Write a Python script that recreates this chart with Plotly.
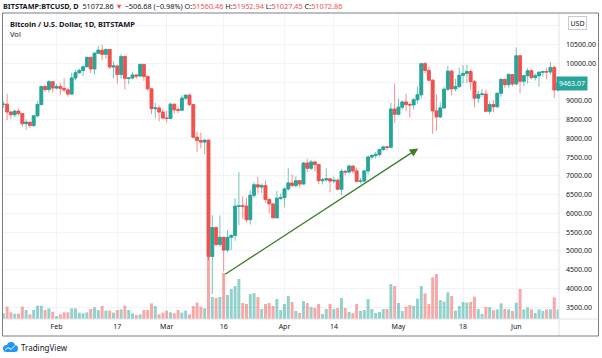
import plotly.graph_objects as go
import pandas as pd

# ---------------- data (daily BTC/USD, Bitstamp) ----------------
START_DATE = "2020-01-18"

OPEN = [
    8900, 8910, 8700, 8630, 8725, 8660, 8390, 8430, 8340, 8600, 8900, 9380, 9300, 9510,
    9340, 9380, 9330, 9290, 9180, 9610, 9750, 9810, 9910, 10160, 9850, 10270, 10350, 10240,
    10370, 9900, 9930, 9700, 10180, 9600, 9610, 9690, 9660, 9970, 9650, 9320, 8790, 8810, 8700,
    8540, 8530, 8910, 8760, 8750, 9070, 9150, 8900, 8030, 7940, 7900, 7950, 4850, 5620, 5170,
    5360, 5020, 5360, 5410, 6190, 6200, 6190, 5830, 6480, 6760, 6700, 6740, 6370, 6250, 5880, 6400,
    6420, 6650, 6810, 6740, 6870, 6780, 7340, 7200, 7370, 7300, 6870, 6890, 6920, 6860, 6880,
    6640, 7120, 7100, 7260, 7130, 6850, 6860, 7130, 7500, 7540, 7570, 7700, 7770, 7760, 8780,
    8640, 8830, 8970, 8900, 8890, 9030, 9160, 9990, 9810, 9550, 8730, 8570, 8810, 9310, 9790,
    9320, 9380, 9680, 9730, 9780, 9510, 9070, 9170, 9180, 8720, 8900, 8840, 9200, 9570, 9430, 9700,
    9450, 10200, 9520, 9670, 9800, 9620, 9670, 9760, 9780, 9770, 9890, 9290,
]
HIGH = [
    8990, 9190, 8730, 8760, 8790, 8665, 8500, 8430, 8610, 8990, 9400, 9430, 9550, 9520,
    9440, 9470, 9600, 9350, 9750, 9830, 9860, 9940, 10160, 10170, 10300, 10470, 10500, 10390,
    10380, 10050, 9960, 10250, 10210, 9620, 9760, 9700, 9990, 9990, 9660, 9330, 8950, 8880, 8780,
    8740, 8950, 8920, 8850, 9150, 9170, 9200, 8900, 8180, 8150, 7970, 7970, 5950, 5650, 5940,
    5370, 5550, 5440, 6400, 7100, 6450, 6410, 6610, 6830, 6980, 6800, 6870, 6400, 6260, 6600, 6520,
    6690, 7200, 7040, 6990, 6880, 7360, 7460, 7420, 7380, 7310, 6950, 7200, 6930, 6980, 6940,
    7180, 7160, 7300, 7270, 7220, 6950, 7160, 7550, 7580, 7640, 7720, 7800, 7790, 8950, 9460,
    9060, 9000, 9190, 8960, 9080, 9380, 10000, 10040, 9910, 9570, 9170, 8960, 9370, 9930, 9840,
    9590, 9880, 9950, 9960, 9840, 9560, 9270, 9310, 9300, 8980, 9010, 9220, 9600, 9600, 9740, 9700,
    10420, 10230, 9690, 9880, 9850, 9730, 9800, 9800, 9880, 10030, 9940, 9530,
]
LOW = [
    8810, 8480, 8520, 8560, 8610, 8300, 8230, 8280, 8300, 8560, 8880, 9240, 9220, 9220,
    9300, 9160, 9230, 9110, 9160, 9540, 9720, 9660, 9890, 9740, 9710, 10250, 10080, 10130,
    9850, 9600, 9460, 9590, 9300, 9440, 9570, 9590, 9650, 9530, 9260, 8640, 8530, 8450, 8530,
    8420, 8510, 8660, 8670, 8750, 9020, 8860, 8000, 7630, 7730, 7580, 4750, 3850, 5110, 5100,
    4450, 4960, 5020, 5270, 5680, 5860, 5760, 5700, 6410, 6530, 6540, 6280, 6000, 5880, 5860, 6350,
    6160, 6600, 6700, 6680, 6690, 6770, 7100, 7150, 7120, 6780, 6770, 6850, 6560, 6800, 6620,
    6480, 7020, 7060, 7060, 6820, 6800, 6840, 7030, 7440, 7460, 7510, 7660, 7670, 7730, 8410,
    8630, 8760, 8720, 8550, 8770, 8930, 9060, 9740, 9520, 8120, 8200, 8540, 8800, 9260, 9140,
    9250, 9340, 9460, 9470, 9290, 8830, 8940, 9100, 8700, 8640, 8700, 8820, 9110, 9350, 9350, 9390,
    9420, 9200, 9390, 9460, 9580, 9540, 9380, 9640, 9570, 9690, 9070, 9240,
]
CLOSE = [
    8910, 8700, 8630, 8725, 8660, 8390, 8430, 8340, 8600, 8900, 9380, 9300, 9510, 9340,
    9380, 9330, 9290, 9180, 9610, 9750, 9810, 9910, 10160, 9850, 10270, 10350, 10240, 10370,
    9900, 9930, 9700, 10180, 9600, 9610, 9690, 9660, 9970, 9650, 9320, 8790, 8810, 8700, 8540,
    8530, 8910, 8760, 8750, 9070, 9150, 8900, 8030, 7940, 7900, 7950, 4850, 5620, 5170, 5360,
    5020, 5360, 5410, 6190, 6200, 6190, 5830, 6480, 6760, 6700, 6740, 6370, 6250, 5880, 6400, 6420,
    6650, 6810, 6740, 6870, 6780, 7340, 7200, 7370, 7300, 6870, 6890, 6920, 6860, 6880, 6640,
    7120, 7100, 7260, 7130, 6850, 6860, 7130, 7500, 7540, 7570, 7700, 7770, 7760, 8780, 8640,
    8830, 8970, 8900, 8890, 9030, 9160, 9990, 9810, 9550, 8730, 8570, 8810, 9310, 9790, 9320,
    9380, 9680, 9730, 9780, 9510, 9070, 9170, 9180, 8720, 8900, 8840, 9200, 9570, 9430, 9700, 9450,
    10200, 9520, 9670, 9800, 9620, 9670, 9760, 9780, 9770, 9890, 9290, 9463.07,
]
VOLUME = [
    3400, 7400, 4000, 3200, 3200, 7400, 5400, 2800, 5400, 8000, 8000, 5400, 6400, 4400,
    1800, 2800, 4000, 4000, 6400, 6400, 3800, 3400, 4000, 6000, 7000, 5400, 7800, 5000,
    5000, 3800, 5400, 5800, 8000, 5400, 3400, 2400, 2800, 5400, 5400, 9400, 7800, 2800, 3800,
    5000, 4000, 3400, 5400, 3800, 5000, 2800, 7800, 9800, 7400, 6400, 45600, 13200, 12600, 13200,
    27600, 14400, 18000, 19800, 24000, 9600, 9000, 15000, 15600, 13200, 6000, 9000, 9600, 7800, 12000, 5400,
    9000, 13800, 10200, 4800, 3600, 10800, 9600, 7200, 6600, 9000, 3000, 6000, 9000, 6000, 6600,
    12600, 6600, 4200, 3600, 9000, 4800, 5400, 12000, 6000, 3600, 4200, 6000, 6000, 21000, 19800,
    9600, 4800, 7400, 8400, 7800, 12200, 19800, 15400, 9000, 25000, 27000, 11400, 10400, 16000, 13800,
    5000, 7800, 10200, 9800, 10200, 13400, 6000, 3000, 7200, 7200, 5200, 5800, 9400, 6000, 5800, 4800,
    9800, 18000, 5800, 7000, 5800, 3600, 5800, 4800, 5800, 5800, 13000, 5800,
]
DATES = pd.date_range(START_DATE, periods=len(CLOSE), freq="D")

X_TICK_DATES = ["2020-02-01", "2020-02-17", "2020-03-01", "2020-03-16", "2020-04-01",
                "2020-04-14", "2020-05-01", "2020-05-18", "2020-06-01"]
X_TICK_TEXT = ["Feb", "17", "Mar", "16", "Apr", "14", "May", "18", "Jun"]
Y_TICKS = [3500, 4000, 4500, 5000, 5500, 6000, 6500, 7000, 7500, 8000, 8500,
           9000, 9500, 10000, 10500, 11000]
# labels hidden behind the last-price tag and the currency box in the original
Y_TICKS_COVERED = [9500, 11000]

ARROW_FROM = ("2020-03-16 00:00", 4350)
ARROW_TO = ("2020-05-06 05:00", 7730)

# ---------------- styling ----------------
UP, DOWN = "#26a69a", "#ef5350"
UP_WICK, DOWN_WICK = "rgba(38,166,154,0.65)", "rgba(239,83,80,0.65)"
UP_VOL, DOWN_VOL = "rgba(38,166,154,0.5)", "rgba(239,83,80,0.5)"
TXT = "#131722"
FONT = "Noto Sans"

W, H = 602, 358
PL, PR, PT, PB = 3, 559, 13, 319


def fx(p):
    return (p - PL) / (PR - PL)


def fy(p):
    return (PB - p) / (PB - PT)


body_hi = [max(o, c) for o, c in zip(OPEN, CLOSE)]
body_lo = [min(o, c) for o, c in zip(OPEN, CLOSE)]
vol_colors = [UP_VOL if c >= o else DOWN_VOL for o, c in zip(OPEN, CLOSE)]

fig = go.Figure()
fig.add_trace(go.Bar(x=DATES, y=VOLUME, marker_color=vol_colors, marker_line_width=0,
                     width=0.78 * 86400000, yaxis="y", hoverinfo="skip"))
fig.add_trace(go.Candlestick(
    x=DATES, open=OPEN, high=HIGH, low=LOW, close=CLOSE, yaxis="y2",
    increasing=dict(line=dict(color=UP_WICK, width=1), fillcolor=UP_WICK),
    decreasing=dict(line=dict(color=DOWN_WICK, width=1), fillcolor=DOWN_WICK),
    whiskerwidth=0, hoverinfo="skip"))
fig.add_trace(go.Candlestick(
    x=DATES, open=OPEN, high=body_hi, low=body_lo, close=CLOSE, yaxis="y2",
    increasing=dict(line=dict(color=UP, width=0.6), fillcolor=UP),
    decreasing=dict(line=dict(color=DOWN, width=0.6), fillcolor=DOWN),
    whiskerwidth=0, hoverinfo="skip"))

x_range = [pd.Timestamp(START_DATE) - pd.Timedelta(hours=2),
           DATES[-1] + pd.Timedelta(hours=6)]
vol_px = 600  # BTC per pixel of bar height
y_price_top = 10000 + (63.3 - PT) / 0.0375
y_price_bot = 10000 - (PB - 63.3) / 0.0375

fig.update_layout(
    width=W, height=H,
    margin=dict(l=PL, r=W - PR, t=PT, b=H - PB, pad=0),
    paper_bgcolor="white", plot_bgcolor="white",
    showlegend=False, hovermode=False,
    boxgap=0.25, boxgroupgap=0,
    font=dict(family=FONT, size=7, color=TXT),
    xaxis=dict(type="date", range=x_range, tickvals=X_TICK_DATES, ticktext=X_TICK_TEXT,
               showgrid=True, gridcolor="#f0f3fa", gridwidth=1, zeroline=False,
               showline=False, ticks="", ticklabelstandoff=2, tickfont=dict(size=7, color=TXT),
               rangeslider=dict(visible=False), fixedrange=True),
    yaxis=dict(range=[0, (PB - PT) * vol_px], visible=False, showgrid=False, fixedrange=True),
    yaxis2=dict(overlaying="y", side="right", range=[y_price_bot, y_price_top],
                tickvals=Y_TICKS,
                ticktext=["" if v in Y_TICKS_COVERED else f"{v:.2f}" for v in Y_TICKS],
                showgrid=True, gridcolor="#f0f3fa", gridwidth=1, zeroline=False,
                showline=False, ticks="", ticklabelstandoff=6,
                tickfont=dict(size=7, color=TXT), fixedrange=True),
)

shapes = [
    dict(type="line", xref="paper", yref="paper", x0=fx(559), x1=fx(559), y0=fy(336), y1=fy(13),
         line=dict(color="#e0e3eb", width=1)),
    dict(type="line", xref="paper", yref="paper", x0=fx(3), x1=fx(598), y0=fy(319), y1=fy(319),
         line=dict(color="#e0e3eb", width=1)),
    dict(type="rect", xref="paper", yref="paper", x0=fx(2.5), x1=fx(598.5), y0=fy(336), y1=fy(13),
         line=dict(color="#7b7e88", width=1)),
    # TradingView cloud logo
    dict(type="circle", xref="paper", yref="paper", x0=fx(3), x1=fx(10), y0=fy(352), y1=fy(345),
         fillcolor="#2196f3", line_width=0),
    dict(type="circle", xref="paper", yref="paper", x0=fx(7), x1=fx(15), y0=fy(350), y1=fy(342),
         fillcolor="#2196f3", line_width=0),
    dict(type="circle", xref="paper", yref="paper", x0=fx(11), x1=fx(18), y0=fy(352), y1=fy(345),
         fillcolor="#2196f3", line_width=0),
    dict(type="rect", xref="paper", yref="paper", x0=fx(6), x1=fx(15), y0=fy(352), y1=fy(348),
         fillcolor="#2196f3", line_width=0),
    dict(type="path", xref="paper", yref="paper",
         path=f"M {fx(5)},{fy(350)} L {fx(8)},{fy(347.5)} L {fx(11)},{fy(349.5)} L {fx(15)},{fy(345.5)}",
         line=dict(color="white", width=1)),
]
fig.update_layout(shapes=shapes)

red = "#ef5350"
header = (f"<b>BITSTAMP:BTCUSD, D</b>  51072.86 <span style='color:{red}'>▼</span> "
          f"−506.68 (−0.98%) O:<span style='color:{red}'>51560.46</span> "
          f"H:<span style='color:{red}'>51952.94</span> "
          f"L:<span style='color:{red}'>51027.45</span> "
          f"C:<span style='color:{red}'>51072.86</span>")

annotations = [
    dict(xref="paper", yref="paper", x=fx(0.5), y=fy(5.5), xanchor="left", yanchor="middle",
         text=header, showarrow=False, font=dict(size=7.3, color=TXT)),
    dict(xref="paper", yref="paper", x=fx(7.5), y=fy(24), xanchor="left", yanchor="middle",
         text="<b>Bitcoin / U.S. Dollar, 1D, BITSTAMP</b>", showarrow=False,
         font=dict(size=7.5, color=TXT)),
    dict(xref="paper", yref="paper", x=fx(7.5), y=fy(34), xanchor="left", yanchor="middle",
         text="Vol", showarrow=False, font=dict(size=7.5, color=TXT)),
    dict(xref="paper", yref="paper", x=fx(577.5), y=fy(23), xanchor="center", yanchor="middle",
         text="USD", showarrow=False, font=dict(size=7, color=TXT), bgcolor="white",
         bordercolor="#c8cad0", borderwidth=1, borderpad=1.5),
    dict(xref="paper", yref="y2", x=fx(556), y=CLOSE[-1], xanchor="left", yanchor="middle",
         text=f"{CLOSE[-1]:.2f}", showarrow=False, font=dict(size=7, color="white"),
         bgcolor=UP, borderpad=2),
    dict(xref="paper", yref="paper", x=fx(18.5), y=fy(347.5), xanchor="left", yanchor="middle",
         text="TradingView", showarrow=False, font=dict(size=8, color=TXT)),
    dict(xref="x", yref="y2", x=ARROW_TO[0], y=ARROW_TO[1], axref="x", ayref="y2",
         ax=ARROW_FROM[0], ay=ARROW_FROM[1], text="", showarrow=True, arrowhead=2,
         arrowsize=1.3, arrowwidth=1.3, arrowcolor="#3f7d24", standoff=0, startstandoff=0),
]
fig.update_layout(annotations=annotations)

fig.write_html("out.html", config={"displayModeBar": False, "staticPlot": True},
               post_script="document.body.style.margin='0';document.body.style.overflow='hidden';")
